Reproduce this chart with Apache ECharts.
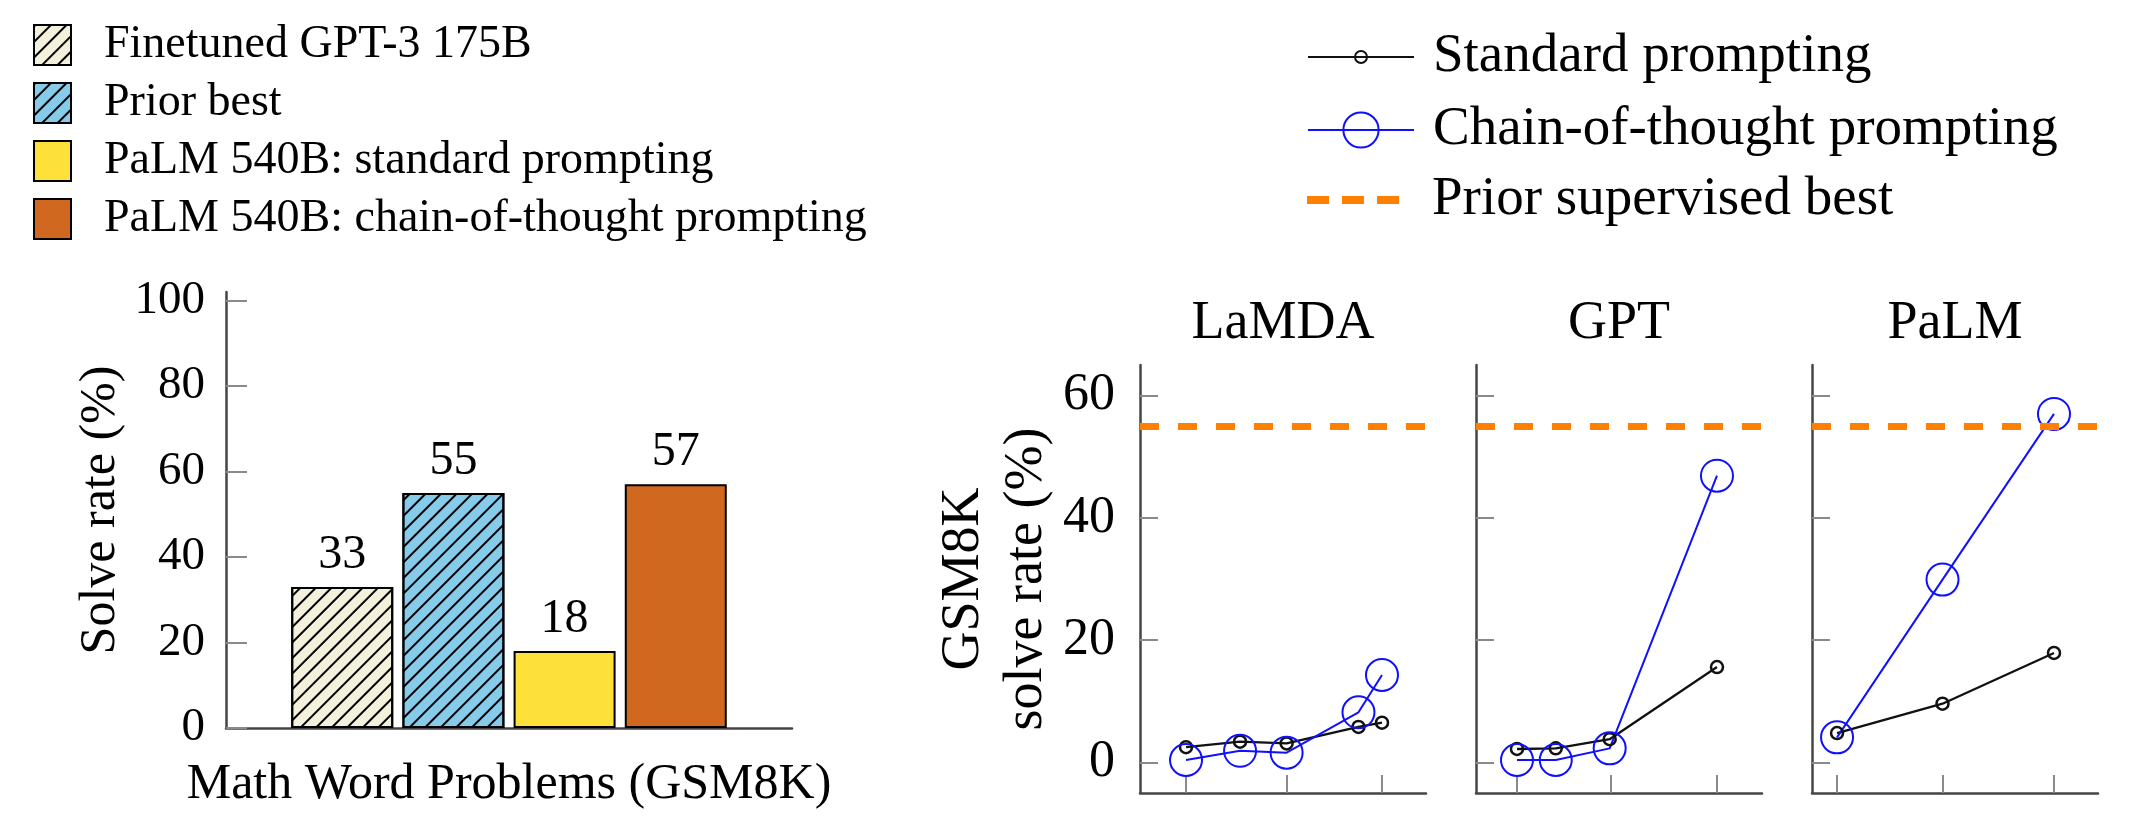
<!DOCTYPE html>
<html><head><meta charset="utf-8">
<script src="https://cdn.jsdelivr.net/npm/echarts@6/dist/echarts.min.js"></script>
<style>html,body{margin:0;padding:0;background:#fff}#c{width:2130px;height:834px}</style>
</head><body><div id="c"></div>
<script>
// ---------- Data: left bar chart ----------
const barCategory = ['Math Word Problems (GSM8K)'];
const barNames = ['Finetuned GPT-3 175B', 'Prior best', 'PaLM 540B: standard prompting', 'PaLM 540B: chain-of-thought prompting'];
const barValues = [33, 55, 18, 57];
const barTicks = [0, 20, 40, 60, 80, 100];

// ---------- Data: right line panels (x = model size, billions of parameters) ----------
const panelTitles = ['LaMDA', 'GPT', 'PaLM'];
const lamdaSizes = [0.4, 2, 8, 68, 137];
const lamdaStandard = [2.5, 3.4, 3.1, 5.8, 6.5];
const lamdaCoT = [0.4, 1.9, 1.6, 8.2, 14.3];
const gptSizes = [0.4, 1.3, 6.7, 175];
const gptStandard = [2.2, 2.3, 3.8, 15.6];
const gptCoT = [0.4, 0.4, 2.3, 46.9];
const palmSizes = [8, 62, 540];
const palmStandard = [4.8, 9.6, 17.9];
const palmCoT = [4.1, 29.9, 57.0];
const priorSupervisedBest = 55;
const lineYTicks = [0, 20, 40, 60];
const lamdaXTicks = [0.4, 8, 137];
const gptXTicks = [0.4, 7, 175];
const palmXTicks = [8, 62, 540];
const lineLegend = ['Standard prompting', 'Chain-of-thought prompting', 'Prior supervised best'];

// ---------- Style ----------
const FF = '"Liberation Serif", "Times New Roman", serif';
const AX = '#454545', TK = '#8a8a8a';
const barColors = ['#F3F1DB', '#86CBEA', '#FEE03A', '#D0691F'];
const barHatched = [true, true, false, false];
const hatch = () => ({ symbol: 'rect', symbolSize: 1, dashArrayX: [1, 0], dashArrayY: [1.8, 8.2], rotation: -Math.PI / 4, color: '#000' });

const panels = [
  { sizes: lamdaSizes, std: lamdaStandard, cot: lamdaCoT, ticks: lamdaXTicks, min: 0.1016, max: 508, left: 1140 },
  { sizes: gptSizes, std: gptStandard, cot: gptCoT, ticks: gptXTicks, min: 0.115, max: 688, left: 1476 },
  { sizes: palmSizes, std: palmStandard, cot: palmCoT, ticks: palmXTicks, min: 4.92, max: 1269, left: 1812 }
];
const zip = (xs, ys) => xs.map((x, i) => [x, ys[i]]);

const grid = [{ left: 226, top: 292, width: 566, height: 436 }];
const xAxis = [{
  type: 'category', gridIndex: 0, data: barCategory,
  axisLine: { onZero: false, lineStyle: { color: AX, width: 2.5 } },
  axisTick: { show: false }, axisLabel: { show: false },
  name: barCategory[0], nameLocation: 'middle', nameGap: 32,
  nameTextStyle: { fontFamily: FF, fontSize: 50, color: '#000' }
}];
const yAxis = [{
  type: 'value', gridIndex: 0, min: 0, max: 102,
  axisLine: { show: true, lineStyle: { color: AX, width: 2.5 } },
  axisTick: { show: true, inside: true, length: 21, lineStyle: { color: TK, width: 2 }, customValues: barTicks },
  axisLabel: { customValues: barTicks, margin: 21, fontFamily: FF, fontSize: 47, color: '#000' },
  splitLine: { show: false },
  name: 'Solve rate (%)', nameLocation: 'middle', nameRotate: 90, nameGap: 100,
  nameTextStyle: { fontFamily: FF, fontSize: 50, color: '#000' }
}];
const series = barNames.map((n, i) => ({
  type: 'bar', name: n, xAxisIndex: 0, yAxisIndex: 0, data: [barValues[i]],
  barWidth: 102, barGap: '9%',
  itemStyle: Object.assign({ color: barColors[i], borderColor: '#000', borderWidth: 2 }, barHatched[i] ? { decal: hatch() } : {}),
  label: { show: true, position: 'top', distance: 8, fontFamily: FF, fontSize: 48, color: '#000' }
}));
const title = [];

panels.forEach((p, k) => {
  const gi = k + 1;
  grid.push({ left: p.left, top: 365, width: 286, height: 428 });
  xAxis.push({
    type: 'log', gridIndex: gi, min: p.min, max: p.max,
    axisLine: { show: true, onZero: false, lineStyle: { color: AX, width: 2.5 } },
    axisTick: { show: true, inside: true, length: 18, lineStyle: { color: TK, width: 2 }, customValues: p.ticks },
    axisLabel: { show: false }, splitLine: { show: false }, minorTick: { show: false }
  });
  const ya = {
    type: 'value', gridIndex: gi, min: -5, max: 65,
    axisLine: { show: true, onZero: false, lineStyle: { color: AX, width: 2.5 } },
    axisTick: { show: true, inside: true, length: 18, lineStyle: { color: TK, width: 2 }, customValues: lineYTicks },
    axisLabel: { show: k === 0, customValues: lineYTicks, margin: 25, fontFamily: FF, fontSize: 52, color: '#000' },
    splitLine: { show: false }
  };
  if (k === 0) Object.assign(ya, {
    name: 'GSM8K\nsolve rate (%)', nameLocation: 'middle', nameRotate: 90, nameGap: 82,
    nameTextStyle: { fontFamily: FF, fontSize: 54, lineHeight: 63, color: '#000', align: 'center' }
  });
  yAxis.push(ya);
  series.push({
    type: 'line', name: lineLegend[2], xAxisIndex: gi, yAxisIndex: gi, data: [],
    markLine: { silent: true, symbol: 'none', label: { show: false },
      lineStyle: { color: '#ff8000', width: 7, type: [19, 19] }, data: [{ yAxis: priorSupervisedBest }] }
  });
  series.push({
    type: 'line', name: lineLegend[0], xAxisIndex: gi, yAxisIndex: gi, data: zip(p.sizes, p.std),
    symbol: 'circle', symbolSize: 12,
    itemStyle: { color: 'rgba(0,0,0,0)', borderColor: '#111', borderWidth: 2.5 },
    lineStyle: { color: '#111', width: 2.3 }
  });
  series.push({
    type: 'line', name: lineLegend[1], xAxisIndex: gi, yAxisIndex: gi, data: zip(p.sizes, p.cot),
    symbol: 'circle', symbolSize: 32,
    itemStyle: { color: 'rgba(0,0,0,0)', borderColor: '#1010ff', borderWidth: 2 },
    lineStyle: { color: '#1010ff', width: 2 }
  });
  title.push({
    text: panelTitles[k], left: p.left + 143, top: 324, textAlign: 'center', textVerticalAlign: 'middle', padding: 0,
    textStyle: { fontFamily: FF, fontSize: 54, fontWeight: 'normal', color: '#000' }
  });
});

const legTxt = (pad, size) => ({ fontFamily: FF, fontSize: size, color: '#000', padding: [0, 0, 0, pad] });
const legend = [
  { data: barNames, orient: 'vertical', left: 33, top: 22, itemWidth: 37, itemHeight: 40, itemGap: 12,
    icon: 'rect', padding: 0, selectedMode: false, textStyle: legTxt(28, 46) },
  { data: [lineLegend[0]], left: 1307, top: 29.5, itemWidth: 106, itemHeight: 15, padding: 0,
    selectedMode: false, textStyle: legTxt(14, 55) },
  { data: [lineLegend[1]], left: 1307, top: 102.5, itemWidth: 106, itemHeight: 44, padding: 0,
    selectedMode: false, textStyle: legTxt(14, 55) },
  { data: [{ name: lineLegend[2], icon: 'path://M0,0h22v8h-22zM35,0h22v8h-22zM70,0h22v8h-22z',
      itemStyle: { color: '#ff8000', borderWidth: 0 } }],
    left: 1307, top: 172.5, itemWidth: 92, itemHeight: 8, padding: 0, selectedMode: false, textStyle: legTxt(28, 55) }
];

const chart = echarts.init(document.getElementById('c'), null, { renderer: 'canvas', width: 2130, height: 834 });
chart.setOption({
  animation: false,
  backgroundColor: '#fff',
  aria: { enabled: true, decal: { show: false } },
  textStyle: { fontFamily: FF },
  title, legend, grid, xAxis, yAxis, series
});
</script></body></html>
